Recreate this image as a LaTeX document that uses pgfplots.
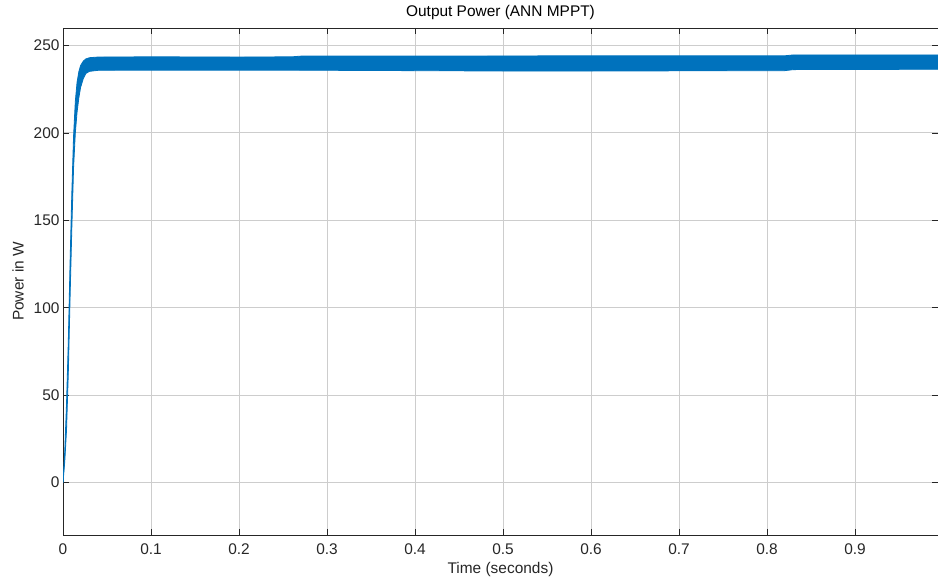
\documentclass[border=0pt]{standalone}
\usepackage{fontspec}
\setmainfont{Liberation Sans}
\usepackage{pgfplots}
\pgfplotsset{compat=1.18}
\usepgfplotslibrary{fillbetween}
\definecolor{mblue}{RGB}{0,114,189}
\definecolor{gridc}{RGB}{205,205,205}
\definecolor{axc}{RGB}{38,38,38}
\begin{document}
\begin{tikzpicture}[x=1bp,y=1bp]
\begin{axis}[
  scale only axis,
  width=875bp, height=507bp,
  xmin=0, xmax=0.9943, ymin=-30, ymax=260,
  xtick={0,0.1,0.2,0.3,0.4,0.5,0.6,0.7,0.8,0.9},
  ytick={0,50,100,150,200,250},
  xticklabels={0,0.1,0.2,0.3,0.4,0.5,0.6,0.7,0.8,0.9},
  scaled x ticks=false,
  /pgf/number format/assume math mode=true,
  tick label style={font=\fontsize{15.5}{17}\selectfont, text=axc},
  xticklabel style={yshift=-5bp},
  label style={font=\fontsize{15.5}{17}\selectfont, text=axc},
  title style={font=\fontsize{15.5}{17}\selectfont, text=black, at={(axis description cs:0.5,1)}, anchor=center, yshift=10bp},
  title={Output Power (ANN MPPT)},
  xlabel={Time (seconds)},
  ylabel={Power in W},
  xlabel style={at={(axis description cs:0.5,0)}, anchor=center, yshift=-35bp},
  ylabel style={at={(axis description cs:0,0.5)}, anchor=center, yshift=45bp},
  grid=major,
  major grid style={gridc, line width=0.8bp},
  axis line style={axc, line width=0.7bp},
  tick style={axc, line width=0.7bp},
  major tick length=6bp,
  tick align=inside,
  clip=true,
]
\addplot[name path=U, mblue, line width=0.8bp] coordinates {
(0,0) (0.002,18) (0.004,45) (0.006,80) (0.008,125) (0.010,165) (0.012,198)
(0.014,218) (0.016,229) (0.018,235) (0.020,238.5) (0.023,241) (0.026,242.3)
(0.030,243) (0.040,243.4) (0.10,243.5) (0.20,243.4) (0.26,243.5) (0.27,243.9)
(0.40,243.9) (0.50,244) (0.60,244.1) (0.70,244.1) (0.82,244.1) (0.83,244.6)
(0.9943,244.6)
};
\addplot[name path=L, mblue, line width=0.8bp] coordinates {
(0,0) (0.002,12) (0.004,30) (0.006,62) (0.008,105) (0.010,145) (0.012,180)
(0.014,200) (0.016,212) (0.018,220) (0.020,226) (0.023,231) (0.026,234)
(0.030,235.2) (0.040,235.8) (0.10,235.9) (0.20,235.9) (0.30,235.8) (0.40,235.6)
(0.50,235.4) (0.60,235.4) (0.70,235.5) (0.82,235.6) (0.83,236.2) (0.9943,236.4)
};
\addplot[mblue, draw=none] fill between[of=U and L];
\end{axis}
\pgfresetboundingbox
\path[use as bounding box] (current axis.south west) ++(-63bp,-44bp) rectangle ++(938bp,579bp);
\end{tikzpicture}
\end{document}
